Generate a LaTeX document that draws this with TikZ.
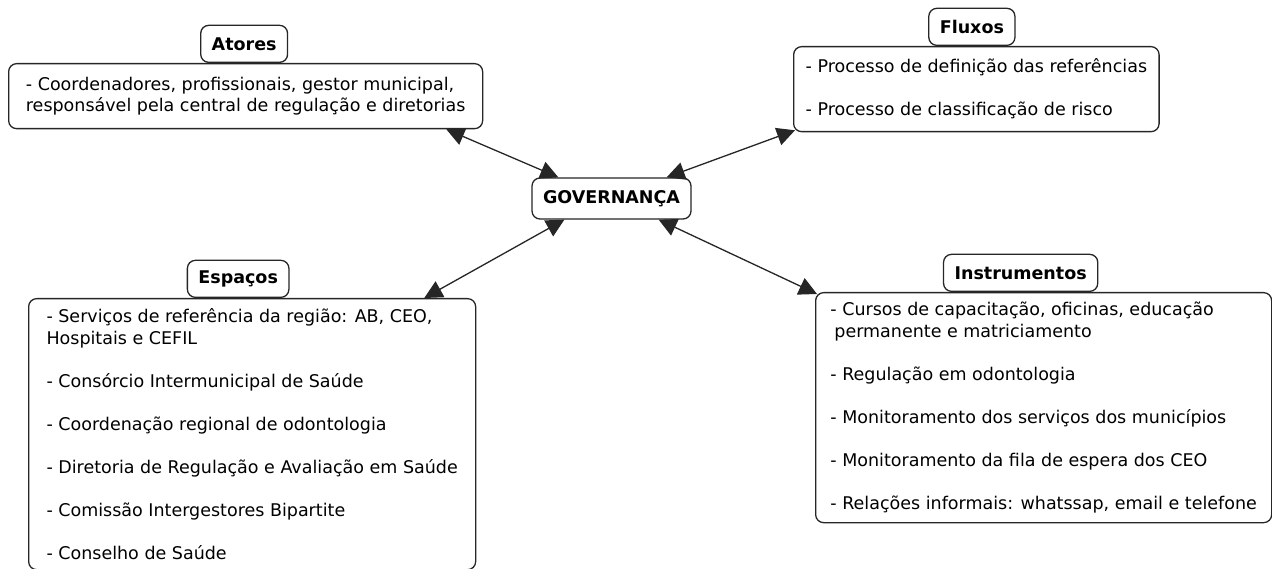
\documentclass[tikz,border=0pt]{standalone}
\usepackage{fontspec}
\setmainfont{DejaVu Sans}
\usetikzlibrary{arrows.meta,positioning}

\begin{document}
\begin{tikzpicture}[
    x=1pt, y=1pt,
    every node/.style={font=\fontsize{17.5}{21.5}\selectfont},
    box/.style={rectangle, rounded corners=8pt, draw=black!85, line width=1.3pt, align=left, inner xsep=12pt, anchor=north west},
    tag/.style={rectangle, rounded corners=8pt, draw=black!85, fill=white, line width=1.3pt, font=\fontsize{17.5}{21.5}\selectfont\bfseries, minimum height=37pt, inner xsep=11pt},
    hub/.style={tag, minimum height=41pt},
    link/.style={{Triangle[length=18pt,width=18pt]}-{Triangle[length=18pt,width=18pt]}, line width=1.3pt, draw=black!85, fill=black!85}
]
    \useasboundingbox (0,0) rectangle (1272,-569);

    % Central node
    \node[hub] (gov) at (611.5,-198.5) {GOVERNANÇA};

    % Atores
    \node[box, minimum width=474pt, minimum height=65pt] (atores) at (8,-63) {- Coordenadores, profissionais, gestor municipal,\\responsável pela central de regulação e diretorias};
    \node[tag, above=0pt of atores, xshift=-1.5pt] (atoreslbl) {Atores};

    % Fluxos
    \node[box, minimum width=365pt, minimum height=85pt] (fluxos) at (793,-46) {- Processo de definição das referências\\[21.5pt]- Processo de classificação de risco};
    \node[tag, above=0pt of fluxos, xshift=-4.5pt] (fluxoslbl) {Fluxos};

    % Espacos
    \node[box, minimum width=447pt, minimum height=271pt] (espacos) at (28,-298) {- Serviços de referência da região: AB, CEO,\\Hospitais e CEFIL\\[21.5pt]- Consórcio Intermunicipal de Saúde\\[21.5pt]- Coordenação regional de odontologia\\[21.5pt]- Diretoria de Regulação e Avaliação em Saúde\\[21.5pt]- Comissão Intergestores Bipartite\\[21.5pt]- Conselho de Saúde};
    \node[tag, above=0pt of espacos, xshift=-14pt] (espacoslbl) {Espaços};

    % Instrumentos
    \node[box, minimum width=456pt, minimum height=230pt] (instr) at (815,-292) {- Cursos de capacitação, oficinas, educação\\\hspace*{4pt}permanente e matriciamento\\[21.5pt]- Regulação em odontologia\\[21.5pt]- Monitoramento dos serviços dos municípios\\[21.5pt]- Monitoramento da fila de espera dos CEO\\[21.5pt]- Relações informais: whatssap, email e telefone};
    \node[tag, above=0pt of instr, xshift=-23pt] (instrlbl) {Instrumentos};

    % Arrows
    \draw[link] ([xshift=-37pt]atores.south east) -- ([xshift=27pt]gov.north west);
    \draw[link] ([shift={(2pt,2pt)}]fluxos.south west) -- ([xshift=-25pt]gov.north east);
    \draw[link] ([xshift=-52pt]espacos.north east) -- ([xshift=33pt]gov.south west);
    \draw[link] ([shift={(2pt,-2pt)}]instr.north west) -- ([xshift=-33pt]gov.south east);

\end{tikzpicture}
\end{document}
